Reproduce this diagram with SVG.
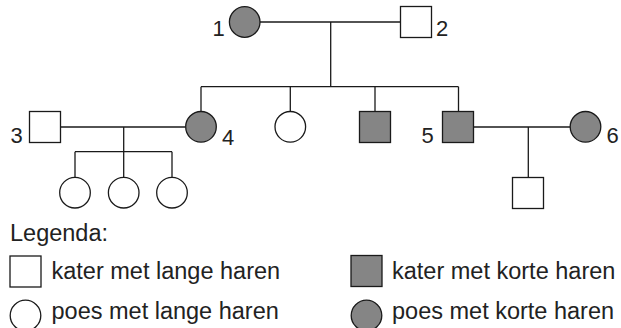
<svg xmlns="http://www.w3.org/2000/svg" width="621" height="328" viewBox="0 0 621 328">
<style>
.ln{stroke:#1a1a1a;stroke-width:1.3;fill:none}
.sh{stroke:#1a1a1a;stroke-width:1.3}
.g{fill:#858585}
.w{fill:#ffffff}
text{font-family:"Liberation Sans",Arial,sans-serif;fill:#222}
.num{font-size:22px}
.lg{font-size:23.5px}
</style>
<rect width="621" height="328" fill="#fff"/>
<g id="connectors" class="ln">
<line x1="260" y1="22" x2="400.5" y2="22"/>
<line x1="330.7" y1="22" x2="330.7" y2="86.7"/>
<line x1="201" y1="86.7" x2="458.5" y2="86.7"/>
<line x1="201" y1="86.7" x2="201" y2="111.5"/>
<line x1="290.3" y1="86.7" x2="290.3" y2="111.5"/>
<line x1="375" y1="86.7" x2="375" y2="111.5"/>
<line x1="458.5" y1="86.7" x2="458.5" y2="111.5"/>
<line x1="60.5" y1="127" x2="185.7" y2="127"/>
<line x1="123.7" y1="127" x2="123.7" y2="151.7"/>
<line x1="75" y1="151.7" x2="172" y2="151.7"/>
<line x1="75" y1="151.7" x2="75" y2="177.4"/>
<line x1="123.7" y1="151.7" x2="123.7" y2="177.4"/>
<line x1="172" y1="151.7" x2="172" y2="177.4"/>
<line x1="473.5" y1="127" x2="570.2" y2="127"/>
<line x1="528.3" y1="127" x2="528.3" y2="177.5"/>
</g>
<g id="n1"><circle class="sh g" cx="244.7" cy="22" r="15.3"/><text class="num" x="212.5" y="36">1</text></g>
<g id="n2"><rect class="sh w" x="400.5" y="6.5" width="31" height="31"/><text class="num" x="436" y="36">2</text></g>
<g id="n3"><rect class="sh w" x="29.5" y="111.5" width="31" height="31"/><text class="num" x="10.5" y="143">3</text></g>
<g id="n4"><circle class="sh g" cx="201" cy="126.8" r="15.3"/><text class="num" x="222" y="145">4</text></g>
<g id="c2"><circle class="sh w" cx="290.3" cy="126.8" r="15.3"/></g>
<g id="c3"><rect class="sh g" x="359.5" y="111.5" width="31" height="31"/></g>
<g id="n5"><rect class="sh g" x="442.5" y="111.5" width="31" height="31"/><text class="num" x="421.5" y="143">5</text></g>
<g id="n6"><circle class="sh g" cx="585.5" cy="126.8" r="15.3"/><text class="num" x="606.5" y="143">6</text></g>
<g id="gc1"><circle class="sh w" cx="75" cy="192.7" r="15.3"/></g>
<g id="gc2"><circle class="sh w" cx="123.7" cy="192.7" r="15.3"/></g>
<g id="gc3"><circle class="sh w" cx="172" cy="192.7" r="15.3"/></g>
<g id="gc4"><rect class="sh w" x="512.5" y="177.5" width="31" height="31"/></g>
<g id="legend">
<text class="lg" x="10" y="241">Legenda:</text>
<rect class="sh w" x="10" y="256" width="31" height="31"/>
<text class="lg" x="51.5" y="279">kater met lange haren</text>
<circle class="sh w" cx="25.5" cy="315.5" r="15.3"/>
<text class="lg" x="51.5" y="319">poes met lange haren</text>
<rect class="sh g" x="351" y="255.5" width="31" height="31"/>
<text class="lg" x="392" y="279">kater met korte haren</text>
<circle class="sh g" cx="366.5" cy="315.5" r="15.3"/>
<text class="lg" x="392" y="319">poes met korte haren</text>
</g>
</svg>
